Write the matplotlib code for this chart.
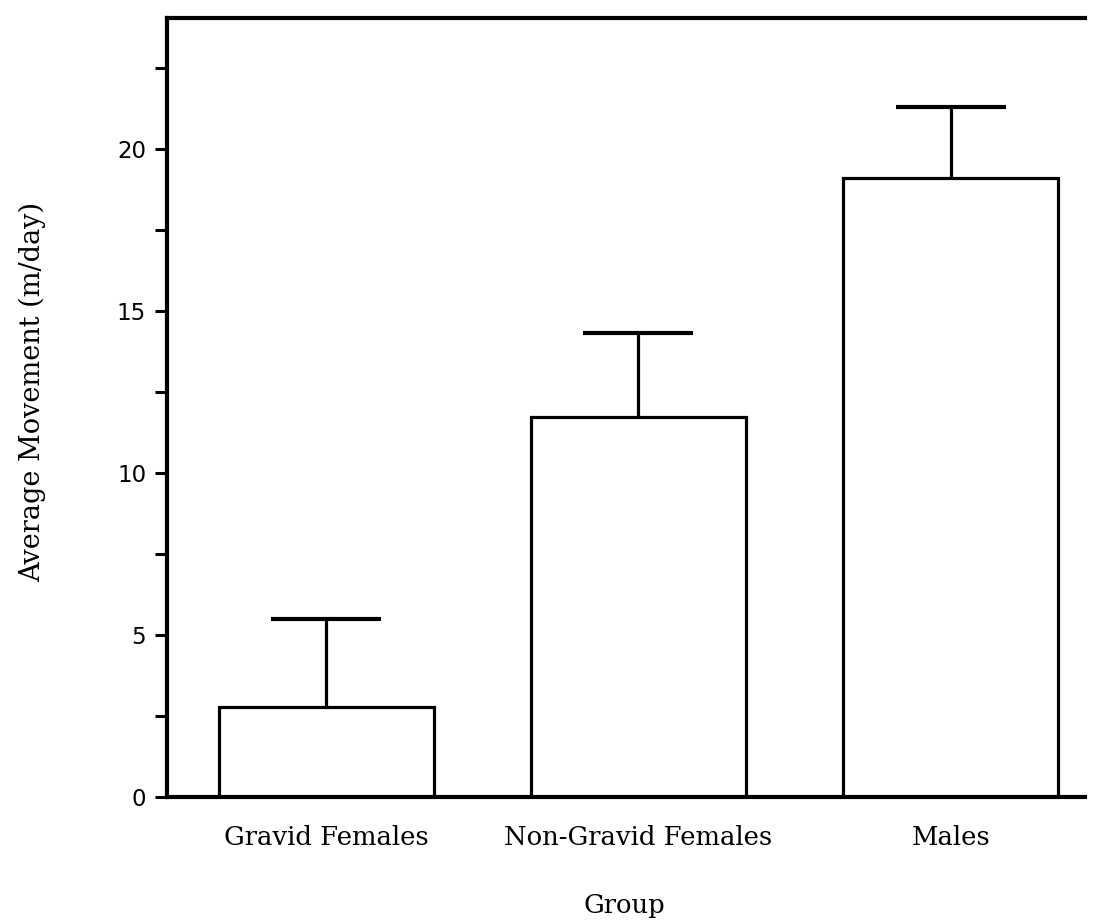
import matplotlib
matplotlib.use("Agg")
import matplotlib.pyplot as plt
import numpy as np

groups = ["Gravid Females", "Non-Gravid Females", "Males"]
means = [2.78, 11.73, 19.1]
upper_err = [2.71, 2.59, 2.2]
yticks = [0, 5, 10, 15, 20]

fig = plt.figure(figsize=(10.98, 9.23), dpi=100)
ax = fig.add_axes([167/1098, 1-797/923, (1085-167)/1098, (797-18)/923])

x = np.arange(len(groups))
ax.bar(x, means, width=0.69, color="white", edgecolor="black", linewidth=2.3, zorder=2)
_, caps, _ = ax.errorbar(x, means, yerr=[np.zeros(len(means)), upper_err], fmt="none",
                         ecolor="black", elinewidth=2.3, capsize=39.5, capthick=3.0, zorder=3)
caps[0].set_visible(False)

ax.set_xlim(-0.51, 2.43)
ax.set_ylim(0, 24.05)
ax.set_yticks(yticks)
ax.set_yticks(np.arange(2.5, 24, 5), minor=True)
ax.set_yticklabels([str(v) for v in yticks], fontfamily="DejaVu Sans", fontsize=16.5)
ax.tick_params(axis="y", which="both", direction="out", length=9, width=2.2, pad=6)
ax.set_xticks(x)
ax.set_xticklabels(groups, fontfamily="DejaVu Serif", fontsize=18.6)
ax.tick_params(axis="x", length=0, pad=20)

for s in ["left", "bottom", "top"]:
    ax.spines[s].set_linewidth(3.0)
ax.spines["right"].set_visible(False)

fig.text(32/1098, 1-392/923, "Average Movement (m/day)", rotation=90,
         ha="center", va="center", fontfamily="DejaVu Serif", fontsize=19.5)
fig.text(624/1098, 1-906/923, "Group", ha="center", va="center",
         fontfamily="DejaVu Serif", fontsize=18.6)

fig.savefig("out.png", dpi=100)
